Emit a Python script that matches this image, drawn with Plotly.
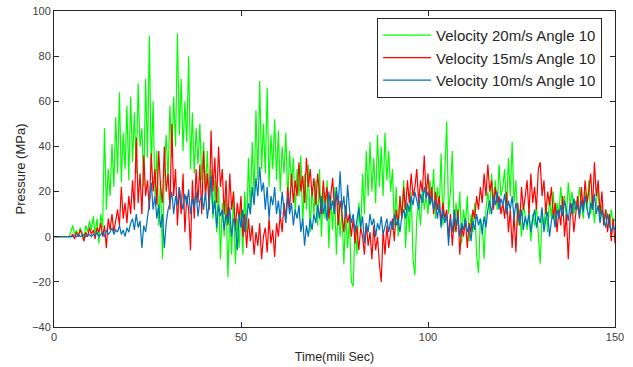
import plotly.graph_objects as go

# sampling of the time axis (ms)
t_start = 0.0
t_step = 0.5

series_names = ["Velocity 20m/s Angle 10", "Velocity 15m/s Angle 10", "Velocity 10m/s Angle 10"]

# Pressure (MPa), one row per 10 ms
green_20 = [
    0, 0, 0, 0, 0, 0, 0, 0, 0, 2, 5, 1, 3, 0, 4, 2, -1, 5, 2, 7,
    3, 9, 1, 8, -3, 10, 4, 48, 12, 30, 18, 41, 22, 53, 28, 64, 24, 46, 30, 58,
    25, 62, 33, 55, 28, 68, 40, 48, 22, 70, 35, 89, 30, 60, 18, 38, 5, 25, -10, 30,
    45, 25, 58, 35, 62, 40, 90, 45, 70, 38, 60, 42, 80, 30, 55, 28, 48, 32, 50, 25,
    42, 20, 38, 12, 30, 8, 25, 2, 22, -10, 15, 0, 18, -18, 10, -8, 20, -12, 8, -5,
    15, -8, 20, 2, 35, 10, 42, 18, 56, 25, 69, 30, 50, 28, 66, 22, 45, 30, 52, 25,
    47, 20, 40, 28, 46, 15, 38, 22, 35, 10, 30, 18, 36, 5, 28, 12, 32, 2, 22, 10,
    25, 5, 30, 0, 20, 8, 25, -5, 18, 3, 22, -8, 15, 0, 12, -12, 10, -5, 8, -20,
    -22, 5, -8, 15, 2, 28, 10, 38, 18, 42, 20, 35, 15, 45, 22, 40, 18, 46, 25, 38,
    20, 30, 5, 22, 0, 18, 8, 25, -5, 15, 2, 20, -10, -17, 8, 15, 5, 22, 12, 18,
    10, 25, 15, 30, 8, 22, 12, 37, 5, 28, 51, 10, 20, 38, 2, 15, 5, 20, -3, 12,
    5, 18, -2, 10, 2, 15, -8, -16, 8, 5, -10, 12, 20, 10, 28, 15, 25, 12, 32, 18,
    22, 30, 10, 35, 18, 42, 15, 25, 5, 12, 0, 15, 8, 3, 12, -2, 10, 5, 14, 0,
    -12, 10, 4, 15, 2, 18, 8, 20, 5, 15, 10, 22, 12, 18, 8, 24, 14, 20, 10, 16,
    12, 22, 15, 8, 20, 12, 25, 10, 18, 6, 15, 22, 8, 14, 5, 12, 10, 4, 12, 6,
    8,
]

red_15 = [
    0, 0, 0, 0, 0, 0, 0, 0, 0, 0, 1, -1, 2, 0, 3, 1, -2, 2, 0, 4,
    1, 3, -1, 4, 2, 6, 0, 5, -5, 8, 3, 10, 2, 7, 12, 5, 22, 8, 15, 6,
    18, 10, 25, 12, 44, 15, 28, 10, 36, 18, 25, 12, 37, 20, 30, 14, 38, 22, 15, 40,
    20, 28, 12, 50, 18, 30, 5, 22, 10, 28, 2, 18, 12, -6, 25, 8, 30, 15, 32, 10,
    38, 18, 28, 12, 47, 20, 35, 15, 40, 22, 30, 10, 25, 5, 28, 12, 20, 3, 15, 8,
    18, 0, 10, -5, 8, -2, 5, -8, 2, -4, 6, -10, 0, 4, -7, 8, -3, 3, -9, 6,
    0, 10, 2, 15, 8, 22, 12, 28, 15, 25, 18, 33, 20, 27, 15, 35, 22, 30, 18, 26,
    14, 28, 20, 10, 25, 15, 22, 8, 18, 26, 12, 20, 5, 16, 10, 2, 14, 6, 10, 0,
    8, -3, 5, -6, 4, 0, -8, 6, -4, 2, -10, 5, -6, 0, -12, -20, 3, -8, 5, -5,
    2, 8, -2, 12, 5, 18, 8, 22, 12, 25, 15, 28, 18, 22, 30, 15, 25, 20, 36, 18,
    28, 15, 22, 10, 20, 12, 18, 6, 15, 8, 12, 0, 10, -4, 8, 2, 12, -8, 5, 0,
    8, -5, 6, 2, 12, 8, 18, 12, 22, 15, 28, 18, 32, 20, 25, 12, 22, 15, 18, 10,
    15, 8, 20, 2, 12, -5, 10, -7, 15, 5, 22, 12, 18, 25, 10, 28, 15, 22, 12, 30,
    33, 18, 25, 10, 20, 14, 22, 8, 15, 2, 12, 5, 18, 0, 10, -10, 8, 15, 2, 12,
    18, 8, 22, 12, 25, 15, 20, 28, 12, 33, 18, 25, 10, 20, 5, 12, 2, 10, -2, 8,
    -3,
]

blue_10 = [
    0, 0, 0, 0, 0, 0, 0, 0, 0, 0, 0, 0.5, 0, 1, 0, 0.5, 1, 0, 0.5, 1,
    0, 1, 0.5, 2, 0, 1, 2, 0, 3, 1, 2, 4, 1, 3, 2, 5, 1, 3, 0, 4,
    2, 6, 8, 3, 10, 4, 7, -5, 5, 2, 8, 15, 24, 12, 18, 8, 14, 4, 10, -5,
    6, 12, 15, 20, 10, 18, 14, 22, 16, 12, 19, 14, 21, 10, 17, 13, 20, 9, 16, 18,
    12, 20, 8, 15, 27, 10, 16, 4, 14, 9, 12, 3, 10, 6, 13, 0, 8, 5, -6, 10,
    4, 12, 2, 8, 15, 10, 22, 14, 26, 18, 31, 20, 24, 12, 22, 8, 18, 14, 22, 10,
    16, 8, 20, 12, 6, 18, 10, 15, 5, 12, 8, 14, 2, 8, -4, 5, 0, 8, 3, 10,
    6, 14, 8, 18, 10, 15, 7, 20, 12, 16, 10, 22, 14, 29, 12, 18, 8, 23, 12, 6,
    10, 2, 8, 13, 4, 9, -3, 6, 2, 10, 5, 8, 0, 6, 3, 9, 1, 5, 8, 2,
    7, 3, 10, 5, 8, 2, 9, 12, 8, 15, 11, 18, 14, 20, 16, 12, 19, 15, 22, 17,
    20, 14, 18, 12, 16, 8, 14, 4, 12, 6, 10, -4, 8, 2, 12, 5, 9, 0, 6, 3,
    8, 2, 5, -2, 7, 3, 10, 5, 8, 1, 9, 4, 12, 16, 10, 18, 14, 20, 12, 17,
    14, 19, 10, 16, 12, 18, 8, 15, 11, 6, 12, 3, 9, 5, 10, 2, 8, 12, 4, 9,
    6, 13, 2, 8, 11, 0, 7, 10, 4, 12, 8, 14, 9, 16, 12, 7, 15, 10, 17, 12,
    14, 9, 16, 11, 18, 13, 8, 15, 12, 19, 10, 14, 6, 12, 8, 4, 10, 6, 2, 5,
    3,
]

x_ticks = [0, 50, 100, 150]
y_ticks = [-40, -20, 0, 20, 40, 60, 80, 100]

colors = ["#00FF00", "#FF0000", "#0072BD"]

fig = go.Figure()
for name, values, color in zip(series_names, [green_20, red_15, blue_10], colors):
    fig.add_trace(go.Scatter(
        x0=t_start, dx=t_step, y=values, mode="lines", name=name,
        line=dict(color=color, width=1.2),
    ))

axis_color = "#262626"
common_axis = dict(
    showgrid=False, zeroline=False, showline=True, linecolor=axis_color,
    linewidth=1, mirror="ticks", ticks="inside", ticklen=5, tickcolor=axis_color,
    tickfont=dict(size=11, color="#404040"), automargin=False,
)

fig.update_layout(
    width=633, height=367,
    margin=dict(l=54, r=18, t=11, b=40),
    paper_bgcolor="white", plot_bgcolor="white",
    font=dict(family="Liberation Sans, Arial, sans-serif", color=axis_color),
    xaxis=dict(range=[0, 150], tickvals=x_ticks,
               title=dict(text="Time(mili Sec)", font=dict(size=12.5, color="#262626"),
                          standoff=10),
               **common_axis),
    yaxis=dict(range=[-40, 100], tickvals=y_ticks,
               title=dict(text="Pressure (MPa)", font=dict(size=13, color="#262626"), standoff=3),
               **common_axis),
    legend=dict(x=0.977, y=0.978, xanchor="right", yanchor="top",
                bordercolor=axis_color, borderwidth=1, bgcolor="white",
                itemwidth=48,
                font=dict(size=15, color="#262626")),
    showlegend=True,
)

fig.write_html(
    "out.html",
    config={"displayModeBar": False},
    post_script="document.body.style.margin='0';document.body.style.overflow='hidden';",
)
